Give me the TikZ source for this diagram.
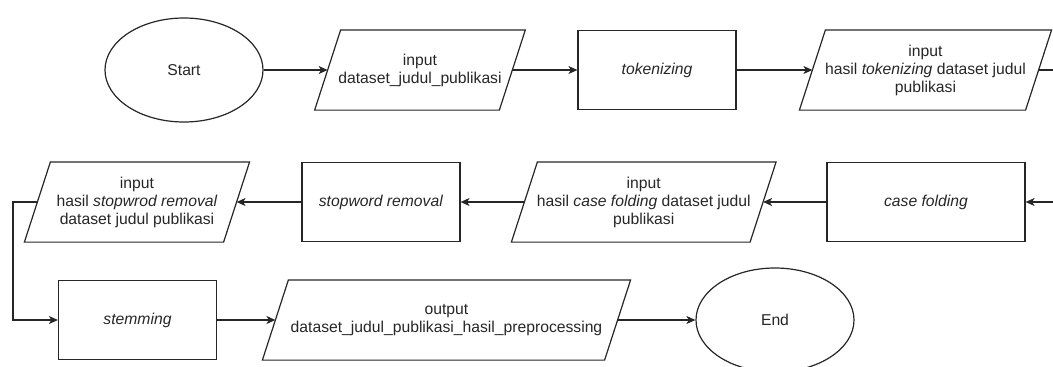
\documentclass[tikz,border=0pt]{standalone}
\usepackage{fontspec}
\setmainfont{Liberation Sans}
\usetikzlibrary{shapes.geometric,arrows.meta,calc}
\begin{document}
\begin{tikzpicture}[x=1pt,y=-1pt,
  color=black!85,
  line width=1.2pt,
  every node/.style={font=\fontsize{15.7}{18}\selectfont, align=center, inner sep=0pt},
  terminal/.style={ellipse, draw, minimum width=158pt, minimum height=104pt},
  process/.style={rectangle, draw, minimum width=158pt, minimum height=79pt},
  io/.style={rectangle, minimum height=79pt},
  flow/.style={-{Stealth[length=9pt,width=8pt,inset=2.5pt]}}]
\useasboundingbox (0,0) rectangle (1053,367);
\clip (0,0) rectangle (1053,367);

% first row
\node[terminal] (start) at (184,70) {Start};
\node[io, minimum width=183.5pt] (in1) at (420,70) {input\\dataset\_judul\_publikasi};
\node[process] (tok) at (657,70) {\textit{tokenizing}};
\node[io, minimum width=225pt] (in2) at (925.5,70) {input\\hasil \textit{tokenizing} dataset judul\\publikasi};

% second row (right to left)
\node[process, minimum width=198pt] (fold) at (926,202) {\textit{case folding}};
\node[io, minimum width=237.5pt] (in3) at (643.75,202) {input\\hasil \textit{case folding} dataset judul\\publikasi};
\node[process] (stop) at (381,202) {\textit{stopword removal}};
\node[io, minimum width=198pt] (in4) at (137,202) {input\\hasil \textit{stopwrod removal}\\dataset judul publikasi};

% third row
\node[process] (stem) at (137.5,320) {\textit{stemming}};
\node[io, minimum width=341pt] (out) at (446.5,320) {output\\dataset\_judul\_publikasi\_hasil\_preprocessing};
\node[terminal] (end) at (775,320) {End};

% slanted outlines of the input/output nodes
\foreach \n in {in1,in2,in3,in4,out}
  \draw ($(\n.south west)+(-13,0)$) -- ($(\n.north west)+(13,0)$)
     -- ($(\n.north east)+(13,0)$) -- ($(\n.south east)+(-13,0)$) -- cycle;

% connectors
\coordinate (rightturn) at (1075,70);
\coordinate (leftturn) at (13,202);
\draw[flow] (start) -- (in1);
\draw[flow] (in1) -- (tok);
\draw[flow] (tok) -- (in2);
\draw[flow] (in2.east) -- (rightturn) |- (fold.east);
\draw[flow] (fold) -- (in3);
\draw[flow] (in3) -- (stop);
\draw[flow] (stop) -- (in4);
\draw[flow] (in4.west) -- (leftturn) |- (stem.west);
\draw[flow] (stem) -- (out);
\draw[flow] (out) -- (end);
\end{tikzpicture}
\end{document}
